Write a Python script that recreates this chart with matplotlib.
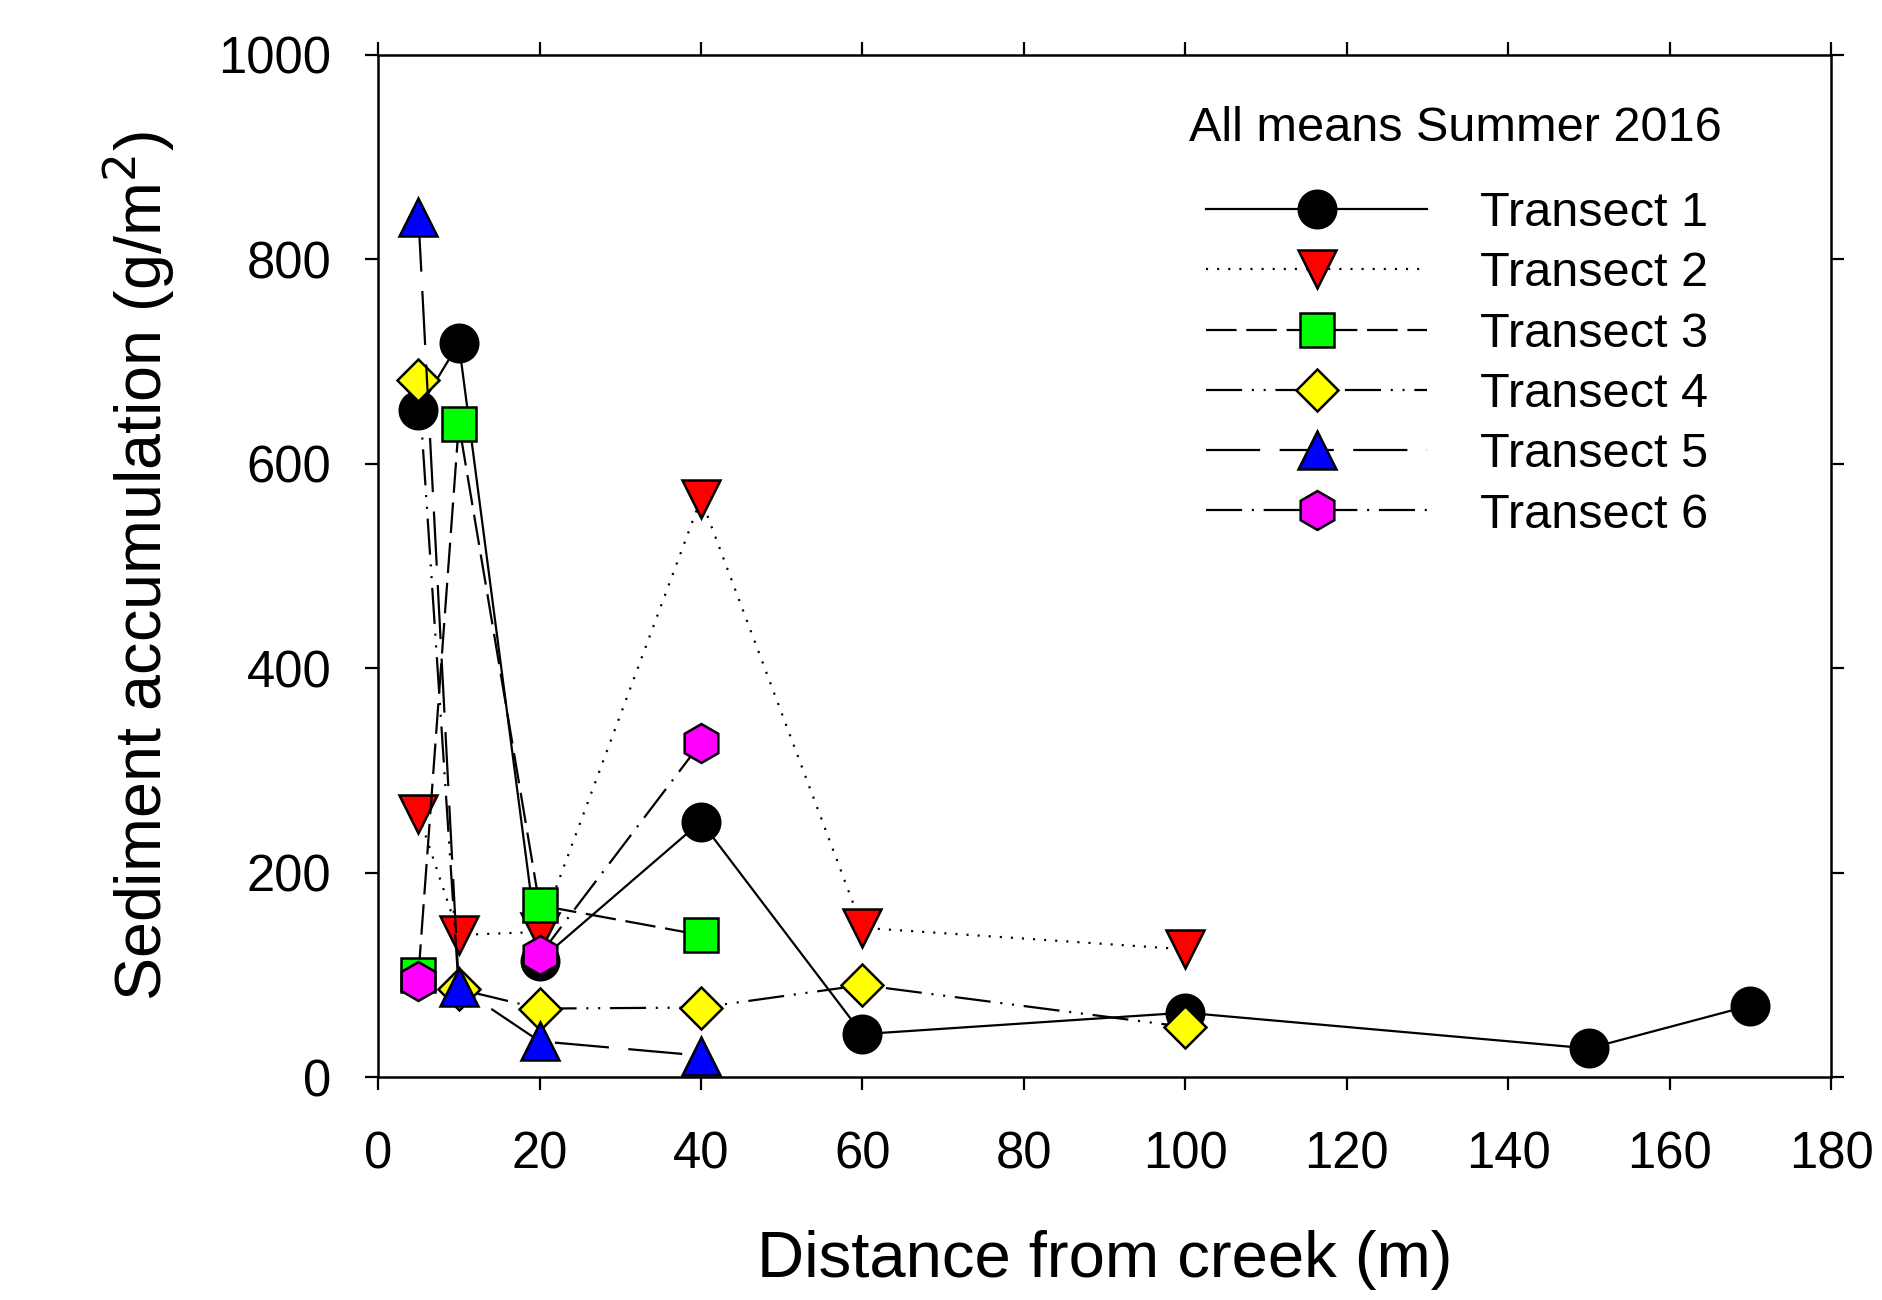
import matplotlib
matplotlib.use("Agg")
import matplotlib.pyplot as plt
import numpy as np

plt.rcParams['font.family'] = ['Liberation Sans', 'DejaVu Sans']
plt.rcParams['lines.scale_dashes'] = False

# distances (m) and mean sediment accumulation (g/m2) per transect
t1_x = [5, 10, 20, 40, 60, 100, 150, 170]
t1_y = [653, 718, 114, 250, 42, 63, 28, 70]
t2_x = [5, 10, 20, 40, 60, 100]
t2_y = [257, 139, 142, 566, 146, 125]
t3_x = [5, 10, 20, 40]
t3_y = [100, 639, 168, 139]
t4_x = [5, 10, 20, 40, 60, 100]
t4_y = [682, 86, 67, 68, 90, 49]
t5_x = [5, 10, 20, 40]
t5_y = [841, 88, 35, 21]
t6_x = [5, 10, 20, 40]
t6_y = [94, np.nan, 119, 327]   # no value at 10 m -> line is broken

labels = ['Transect 1', 'Transect 2', 'Transect 3', 'Transect 4', 'Transect 5', 'Transect 6']

fig = plt.figure(figsize=(18.83, 13.0), dpi=100)
ax = fig.add_axes([0.2008, 0.1715, 0.9724 - 0.2008, 0.9577 - 0.1715])

lw = 1.6
mew = 1.8
ax.plot(t1_x, t1_y, color='black', lw=lw, linestyle='-',
        marker='o', ms=27, mfc='black', mec='black', mew=mew, label=labels[0])
ax.plot(t2_x, t2_y, color='black', lw=lw, linestyle=(0, (1.5, 6.5)),
        marker='v', ms=27, mfc='#ff0000', mec='black', mew=mew, label=labels[1])
ax.plot(t3_x, t3_y, color='black', lw=lw, linestyle=(0, (22, 7)),
        marker='s', ms=24, mfc='#00ff00', mec='black', mew=mew, label=labels[2])
ax.plot(t4_x, t4_y, color='black', lw=lw, linestyle=(0, (26, 7, 1.5, 7, 1.5, 7)),
        marker='D', ms=21, mfc='#ffff00', mec='black', mew=mew, label=labels[3])
ax.plot(t5_x, t5_y, color='black', lw=lw, linestyle=(0, (39, 14)),
        marker='^', ms=27, mfc='#0000ff', mec='black', mew=mew, label=labels[4])
ax.plot(t6_x, t6_y, color='black', lw=lw, linestyle=(0, (26, 7, 1.5, 7)),
        marker='h', ms=28, mfc='#ff00ff', mec='black', mew=mew, label=labels[5])

ax.set_xlim(0, 180)
ax.set_ylim(0, 1000)
ax.set_xticks(range(0, 181, 20))
ax.set_yticks(range(0, 1001, 200))

for s in ax.spines.values():
    s.set_linewidth(1.8)
ax.tick_params(which='both', direction='out', length=9.5, width=1.6,
               top=True, right=True, labelsize=36.5)
ax.tick_params(axis='x', pad=29)
ax.tick_params(axis='y', pad=24)

ax.set_xlabel('Distance from creek (m)', fontsize=47, labelpad=36)
ax.set_ylabel('Sediment accumulation (g/m$^2$)', fontsize=46.5, labelpad=30)

ax.text(0.558, 0.928, 'All means Summer 2016', transform=ax.transAxes,
        fontsize=35, ha='left', va='center')
ax.legend(loc='upper left', bbox_to_anchor=(0.5565, 0.886), frameon=False,
          fontsize=35, numpoints=1, handlelength=4.55, handletextpad=1.09,
          labelspacing=0.315, borderaxespad=0)

fig.savefig('out.png', dpi=100)
